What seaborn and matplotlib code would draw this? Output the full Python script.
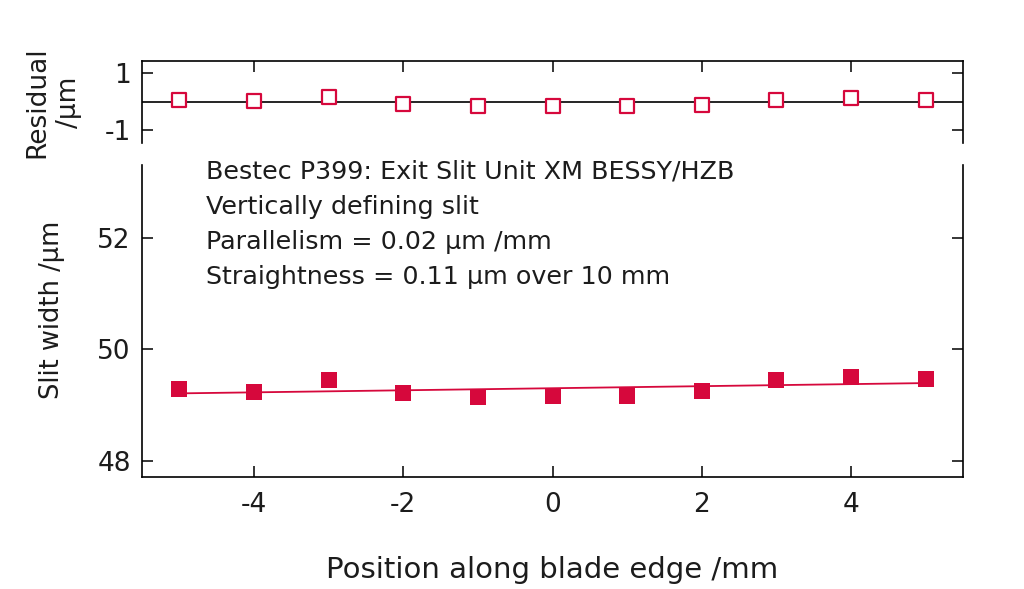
import numpy as np
import pandas as pd
import seaborn as sns
import matplotlib
matplotlib.use("Agg")
import matplotlib.pyplot as plt

position_mm = [-5, -4, -3, -2, -1, 0, 1, 2, 3, 4, 5]
slit_width_um = [49.29, 49.24, 49.44, 49.21, 49.14, 49.16, 49.16, 49.25, 49.44, 49.51, 49.46]
residual_um = [0.07, 0.01, 0.16, -0.08, -0.16, -0.16, -0.16, -0.11, 0.07, 0.14, 0.04]

x_ticks = [-4, -2, 0, 2, 4]
width_ticks = [48, 50, 52]
resid_ticks = [-1, 1]

info_lines = ["Bestec P399: Exit Slit Unit XM BESSY/HZB",
              "Vertically defining slit",
              "Parallelism = 0.02 \u00b5m /mm",
              "Straightness = 0.11 \u00b5m over 10 mm"]

red = "#D6083C"
txt = "#1c1c1c"

sns.set_theme(style="ticks")
plt.rcParams['font.family'] = ['DejaVu Sans']
plt.rcParams['axes.unicode_minus'] = False

df = pd.DataFrame({"pos": position_mm, "width": slit_width_um, "resid": residual_um})

# straight line fit through the measured points
slope, icpt = np.polyfit(df["pos"], df["width"], 1)
df["fit"] = icpt + slope * df["pos"]

fig = plt.figure(figsize=(10.24, 5.89), dpi=100)
ax_r = fig.add_axes([0.1387, 0.7572, 0.8018, 0.1392])
ax_w = fig.add_axes([0.1387, 0.1902, 0.8018, 0.5297])

# residual panel
ax_r.axhline(0, color="black", lw=1.2, zorder=1)
sns.scatterplot(data=df, x="pos", y="resid", ax=ax_r, marker="s", s=100,
                facecolor="white", edgecolor=red, linewidth=1.6, zorder=3)
ax_r.set_xlim(-5.5, 5.5)
ax_r.set_ylim(-1.45, 1.42)
ax_r.set_xticks(x_ticks)
ax_r.set_yticks(resid_ticks)
ax_r.xaxis.tick_top()
ax_r.tick_params(axis="x", labeltop=False, labelbottom=False, bottom=False)
ax_r.set_xlabel("")
ax_r.set_ylabel("Residual\n/\u00b5m", fontsize=19, color=txt, va="center", linespacing=1.3)
ax_r.yaxis.set_label_coords(-0.108, 0.5)
ax_r.spines["bottom"].set_visible(False)

# slit width panel
sns.lineplot(data=df, x="pos", y="fit", ax=ax_w, color=red, lw=1.3, zorder=2)
sns.scatterplot(data=df, x="pos", y="width", ax=ax_w, marker="s", s=132,
                color=red, linewidth=0, zorder=3)
ax_w.set_xlim(-5.5, 5.5)
ax_w.set_ylim(47.71, 53.30)
ax_w.set_xticks(x_ticks)
ax_w.set_yticks(width_ticks)
ax_w.set_xlabel("Position along blade edge /mm", fontsize=21, color=txt, va="center")
ax_w.xaxis.set_label_coords(0.5, -0.298)
ax_w.set_ylabel("Slit width /\u00b5m", fontsize=18.5, color=txt, va="center")
ax_w.yaxis.set_label_coords(-0.11, 0.535)
ax_w.spines["top"].set_visible(False)

for ax in (ax_r, ax_w):
    for side in ("left", "right", "top", "bottom"):
        ax.spines[side].set_linewidth(1.2)
        ax.spines[side].set_color("black")
    ax.tick_params(axis="both", direction="in", length=8, width=1.1,
                   colors="black", labelcolor=txt, labelsize=19, pad=8)
    ax.tick_params(axis="y", right=True)
ax_w.tick_params(axis="x", pad=11, top=False)

ys = [0.978, 0.865, 0.753, 0.641]
for line, yy in zip(info_lines, ys):
    ax_w.text(0.078, yy, line, transform=ax_w.transAxes, fontsize=18.3,
              color=txt, ha="left", va="center")

fig.savefig("out.png", dpi=100, facecolor="white")
